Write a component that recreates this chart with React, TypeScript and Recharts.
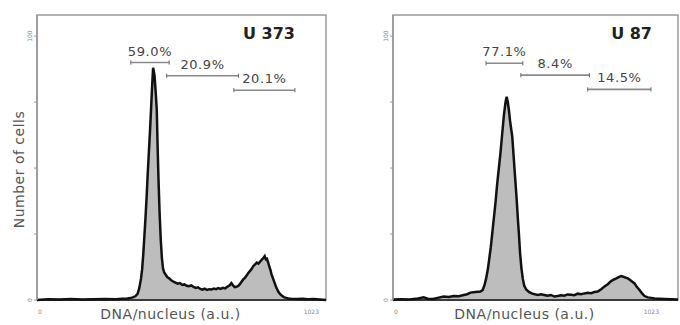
import React from "react";
import { Area, ComposedChart, ReferenceArea, ReferenceLine, XAxis, YAxis } from "recharts";

// [channel, number of cells]
const u373Histogram: [number, number][] = [
    [0, 0], [40, 0.3], [80, 0.2], [120, 0.4], [160, 0.2], [200, 0.3], [240, 0.4], [280, 0.3],
    [300, 0.5], [320, 0.6], [336, 0.9], [348, 1.4], [356, 2.3], [362, 4.5], [368, 8], [372, 11.5],
    [376, 17], [380, 24], [384, 31], [388, 39], [392, 48], [396, 56], [400, 64], [404, 73],
    [408, 82], [411, 88], [413, 87], [416, 85], [420, 79], [424, 72], [427, 58], [430, 46],
    [434, 33], [438, 23], [442, 16], [446, 12], [450, 10.5], [456, 9.5], [462, 8.6], [468, 8.2],
    [474, 7.6], [482, 7.0], [490, 6.6], [498, 6.2], [506, 6.4], [514, 5.7], [522, 5.9], [530, 5.4],
    [538, 5.2], [546, 5.5], [554, 5.0], [562, 4.6], [570, 4.8], [578, 4.2], [586, 3.9], [594, 4.3],
    [602, 3.8], [610, 4.1], [618, 4.0], [626, 4.3], [634, 4.1], [642, 4.5], [650, 4.2], [658, 4.6],
    [666, 4.4], [674, 5.0], [682, 5.6], [688, 6.4], [694, 5.5], [700, 4.9], [706, 5.0], [712, 5.3],
    [718, 6.0], [724, 6.9], [730, 7.8], [736, 8.4], [742, 9.3], [748, 10.2], [754, 11.0], [760, 11.8],
    [766, 12.9], [772, 13.5], [778, 14.2], [784, 13.8], [790, 14.6], [796, 15.3], [802, 16.0], [806, 16.6],
    [810, 15.4], [814, 15.6], [818, 14.3], [822, 12.8], [826, 11.5], [830, 9.8], [836, 8.0], [842, 6.2],
    [848, 4.5], [854, 3.2], [860, 2.3], [866, 1.7], [874, 1.1], [882, 0.8], [890, 0.6], [900, 0.5],
    [920, 0.4], [940, 0.5], [960, 0.3], [980, 0.4], [1000, 0.2], [1023, 0],
];

const u87Histogram: [number, number][] = [
    [0, 0.2], [30, 0.3], [60, 0.2], [90, 0.6], [110, 1.0], [125, 0.5], [144, 0.4], [160, 0.8],
    [182, 1.3], [200, 1.1], [218, 1.5], [236, 1.4], [254, 1.9], [266, 2.2], [278, 2.8], [296, 3.0],
    [314, 3.2], [322, 3.8], [328, 5.5], [334, 8], [341, 12], [346, 16], [351, 20], [356, 25],
    [362, 31], [368, 37], [374, 44], [380, 50], [386, 56], [392, 63], [398, 70], [404, 75],
    [408, 77], [412, 75], [416, 72], [420, 68], [424, 65], [428, 62], [432, 56], [436, 50],
    [440, 44], [444, 38], [448, 31], [452, 25], [456, 18], [461, 12], [466, 8], [471, 5.5],
    [478, 4.0], [489, 3.0], [500, 2.4], [519, 1.9], [531, 2.2], [543, 1.9], [555, 1.6], [567, 1.9],
    [579, 1.3], [591, 1.5], [603, 1.8], [615, 1.6], [627, 2.1], [639, 2.0], [651, 1.8], [663, 2.4],
    [675, 2.2], [687, 2.5], [699, 2.7], [711, 2.6], [723, 3.0], [735, 3.2], [747, 4.1], [759, 5.1],
    [771, 6.0], [781, 7.0], [790, 7.6], [800, 8.1], [810, 8.7], [819, 9.1], [827, 8.8], [835, 8.5],
    [843, 8.2], [851, 7.6], [859, 6.9], [867, 6.3], [875, 5.0], [885, 3.8], [894, 2.5], [903, 1.5],
    [915, 1.0], [927, 0.8], [939, 0.6], [957, 0.5], [975, 0.4], [1000, 0.3], [1023, 0.2],
];

// cell-cycle gates: G1, S, G2/M
const u373Gates = [
    { from: 332, to: 468, level: 90, label: "59.0%" },
    { from: 459, to: 713, level: 85, label: "20.9%" },
    { from: 697, to: 913, level: 79.5, label: "20.1%" },
];

const u87Gates = [
    { from: 334, to: 466, level: 89.7, label: "77.1%" },
    { from: 459, to: 705, level: 85.2, label: "8.4%" },
    { from: 699, to: 926, level: 79.8, label: "14.5%" },
];

const xTicks = [0, 1023];
const yTicks = [0, 25, 50, 75, 100];
const yLabelled = [0, 100];

const FONT = "DejaVu Sans, Arial, sans-serif";

const XTick = ({ x, y, payload }: any) => (
    <text
        x={payload.value === 0 ? x + 1 : x - 5}
        y={y + 6}
        textAnchor={payload.value === 0 ? "start" : "end"}
        fontSize={6}
        fontFamily={FONT}
        fill="#888"
    >
        {payload.value}
    </text>
);

const YTick = ({ x, y, payload }: any) =>
    yLabelled.includes(payload.value) ? (
        <text
            x={x}
            y={y}
            transform={`rotate(-90 ${x} ${y})`}
            textAnchor="middle"
            fontSize={6}
            fontFamily={FONT}
            fill="#888"
        >
            {payload.value}
        </text>
    ) : null;

type Gate = { from: number; to: number; level: number; label: string };

type PanelProps = {
    histogram: [number, number][];
    gates: Gate[];
    title: string;
    left: number;
    marginLeft: number;
    marginRight: number;
    yLabel?: string;
    titleRight: number;
};

function Panel({ histogram, gates, title, left, marginLeft, marginRight, yLabel, titleRight }: PanelProps) {
    const data = histogram.map(([channel, count]) => ({ channel, count }));
    return (
        <div style={{ position: "absolute", left, top: 0, width: 340, height: 325 }}>
            <ComposedChart
                width={340}
                height={325}
                data={data}
                margin={{ top: 15, right: marginRight, bottom: 0, left: marginLeft }}
            >
                <XAxis
                    dataKey="channel"
                    type="number"
                    domain={[0, 1023]}
                    ticks={xTicks}
                    tick={<XTick />}
                    tickLine={false}
                    height={25}
                    axisLine={{ stroke: "#111", strokeWidth: 1.5 }}
                    label={{
                        value: "DNA/nucleus (a.u.)",
                        position: "insideBottom",
                        offset: 6,
                        dx: -11,
                        fontSize: 14,
                        letterSpacing: 0.5,
                        fontFamily: FONT,
                        fill: "#555",
                    }}
                />
                <YAxis
                    type="number"
                    domain={[0, 108]}
                    ticks={yTicks}
                    tick={<YTick />}
                    tickSize={3}
                    tickLine={{ stroke: "#999" }}
                    width={29}
                    axisLine={{ stroke: "#999", strokeWidth: 1.5 }}
                    label={
                        yLabel
                            ? {
                                  value: yLabel,
                                  angle: -90,
                                  position: "center",
                                  dx: -3,
                                  dy: 12,
                                  fontSize: 14,
                                  letterSpacing: 0.5,
                                  fontFamily: FONT,
                                  fill: "#555",
                              }
                            : undefined
                    }
                />
                <ReferenceArea x1={0} x2={1023} y1={0} y2={108} fill="none" stroke="#9a9a9a" strokeWidth={1.5} />
                <Area
                    type="linear"
                    dataKey="count"
                    stroke="#111"
                    strokeWidth={2.5}
                    fill="#bdbdbd"
                    fillOpacity={1}
                    isAnimationActive={false}
                />
                {gates.map((g) => (
                    <ReferenceLine
                        key={g.label}
                        segment={[
                            { x: g.from, y: g.level },
                            { x: g.to, y: g.level },
                        ]}
                        stroke="#8a8a8a"
                        strokeWidth={1.6}
                        label={{
                            value: g.label,
                            position: "top",
                            offset: 7,
                            fontSize: 13,
                            letterSpacing: 0.6,
                            fontFamily: FONT,
                            fill: "#444",
                        }}
                    />
                ))}
                {gates.flatMap((g) =>
                    [g.from, g.to].map((end) => (
                        <ReferenceLine
                            key={`${g.label}-${end}`}
                            segment={[
                                { x: end, y: g.level - 0.8 },
                                { x: end, y: g.level + 0.8 },
                            ]}
                            stroke="#666"
                            strokeWidth={1}
                        />
                    ))
                )}
            </ComposedChart>
            <div
                style={{
                    position: "absolute",
                    top: 24,
                    right: titleRight,
                    fontFamily: FONT,
                    fontWeight: "bold",
                    fontSize: 16,
                    lineHeight: "20px",
                    color: "#222",
                }}
            >
                {title}
            </div>
        </div>
    );
}

export default function App() {
    return (
        <div style={{ position: "absolute", left: 0, top: 0, width: 680, height: 325, background: "#fff" }}>
            <Panel
                histogram={u373Histogram}
                gates={u373Gates}
                title="U 373"
                left={0}
                marginLeft={8}
                marginRight={14}
                yLabel="Number of cells"
                titleRight={45}
            />
            <Panel
                histogram={u87Histogram}
                gates={u87Gates}
                title="U 87"
                left={340}
                marginLeft={24}
                marginRight={2}
                titleRight={28}
            />
        </div>
    );
}
